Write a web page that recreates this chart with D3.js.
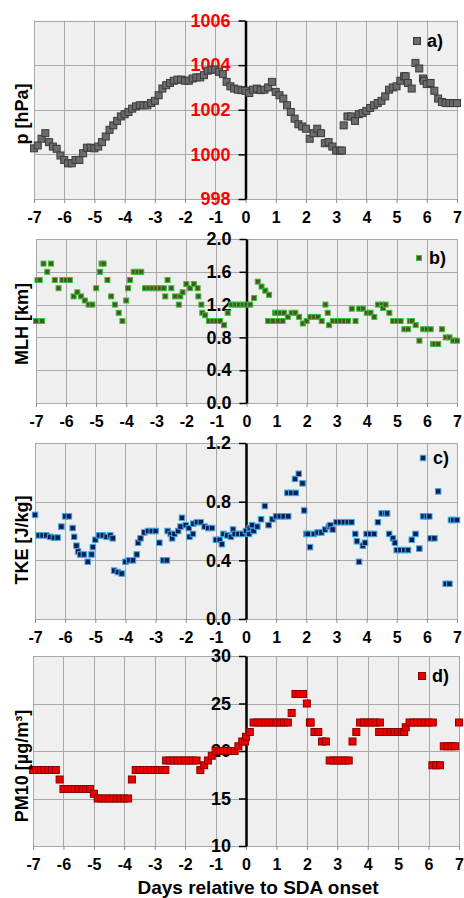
<!DOCTYPE html>
<html>
<head>
<meta charset="utf-8">
<script src="https://d3js.org/d3.v7.min.js"></script>
<style>
body { margin: 0; background: #fff; font-family: "Liberation Sans", Arial, sans-serif; }
svg { display: block; }
</style>
</head>
<body>
<div id="chart"></div>

<script>

var width = 464;
var height = 898;

// time axis: days relative to SDA onset, 3-hourly readings
var days = d3.range(-7, 7.0001, 0.125);
var xTicks = [-7, -6, -5, -4, -3, -2, -1, 0, 1, 2, 3, 4, 5, 6, 7];

// a) surface pressure [hPa], one row per day
var pressure = [
  1000.27, 1000.4, 1000.7, 1000.95, 1000.55, 1000.35, 1000.25, 999.95,
  999.75, 999.6, 999.6, 999.75, 999.75, 1000.05, 1000.3, 1000.3,
  1000.27, 1000.35, 1000.55, 1000.8, 1001.1, 1001.3, 1001.5, 1001.7,
  1001.8, 1001.9, 1002.05, 1002.15, 1002.2, 1002.2, 1002.2, 1002.3,
  1002.4, 1002.65, 1002.95, 1003.1, 1003.2, 1003.3, 1003.35, 1003.35,
  1003.3, 1003.3, 1003.4, 1003.45, 1003.45, 1003.55, 1003.75, 1003.8,
  1003.8, 1003.7, 1003.6, 1003.25, 1003.05, 1002.95, 1002.9, 1002.88,
  1002.85, 1002.75, 1002.9, 1002.95, 1002.88, 1002.9, 1003.0, 1003.25,
  1002.8, 1002.65, 1002.5, 1002.2, 1001.9, 1001.6, 1001.35, 1001.25,
  1001.15, 1000.7, 1000.95, 1001.15, 1000.95, 1000.5, 1000.55, 1000.35,
  1000.17, 1000.17, 1001.3, 1001.7, 1001.7, 1001.5, 1001.8, 1001.85,
  1001.95, 1002.08, 1002.2, 1002.3, 1002.4, 1002.6, 1002.9, 1003.0,
  1003.05, 1003.3, 1003.5, 1003.2, 1002.95, 1004.1, 1003.85, 1003.4,
  1003.15, 1003.2, 1002.85, 1002.5, 1002.35, 1002.3, 1002.3, 1002.3,
  1002.3
];
var pressureExtra = [[3.19, 1000.17], [5.3, 1003.5], [5.9, 1003.3]];

// b) mixing layer height [km]
var mlh = [
  1.0, 1.5, 1.7, 1.6, 1.7, 1.5, 1.4, 1.5,
  1.5, 1.5, 1.3, 1.35, 1.3, 1.25, 1.2, 1.2,
  1.4, 1.6, 1.7, 1.5, 1.3, 1.2, 1.1, 1.0,
  1.25, 1.5, 1.6, 1.6, 1.6, 1.4, 1.4, 1.4,
  1.4, 1.4, 1.4, 1.5, 1.4, 1.3, 1.2, 1.35,
  1.45, 1.4, 1.45, 1.4, 1.2, 1.07, 1.0, 1.0,
  1.0, 1.0, 0.95, 1.1, 1.2, 1.2, 1.2, 1.2,
  1.2, 1.2, 1.28, 1.48, 1.42, 1.37, 1.32, 1.0,
  1.1, 1.1, 1.1, 1.05, 1.1, 1.1, 1.05, 0.97,
  1.0, 1.05, 1.05, 1.05, 1.0, 1.2, 0.95, 1.0,
  1.0, 1.0, 1.0, 1.0, 1.15, 1.0, 1.15, 1.15,
  1.1, 1.1, 1.05, 1.2, 1.2, 1.2, 1.1, 1.0,
  1.0, 1.0, 0.9, 0.9, 1.0, 0.95, 0.76, 0.9,
  0.9, 0.9, 0.72, 0.72, 0.9, 0.8, 0.8, 0.76,
  0.76
];
var mlhExtra = [[-6.8, 1.0], [-6.95, 1.5], [-4.82, 1.7], [-3.94, 1.4], [-2.7, 1.3],
  [-2.2, 1.3], [-1.6, 1.3], [-1.47, 1.1], [0.72, 1.0], [1.05, 1.0], [1.2, 1.0],
  [0.95, 1.1], [2.7, 1.1], [4.54, 1.16], [5.43, 1.0], [6.2, 0.72]];

// c) turbulent kinetic energy [J/kg]
var tke = [
  0.71, 0.57, 0.57, 0.57, 0.56, 0.555, 0.555, 0.63,
  0.70, 0.70, 0.62, 0.50, 0.44, 0.44, 0.39, 0.44,
  0.54, 0.57, 0.57, 0.56, 0.57, 0.33, 0.32, 0.31,
  0.39, 0.40, 0.40, 0.44, 0.55, 0.59, 0.60, 0.60,
  0.60, 0.52, 0.40, 0.40, 0.58, 0.58, 0.60, 0.69,
  0.64, 0.56, 0.65, 0.66, 0.66, 0.63, 0.62, 0.62,
  0.54, 0.54, 0.58, 0.57, 0.56, 0.58, 0.58, 0.58,
  0.60, 0.62, 0.60, 0.63, 0.68, 0.77, 0.64, 0.68,
  0.70, 0.70, 0.70, 0.86, 0.86, 0.955, 0.99, 0.925,
  0.58, 0.49, 0.58, 0.59, 0.59, 0.61, 0.63, 0.61,
  0.66, 0.66, 0.66, 0.66, 0.66, 0.58, 0.39, 0.50,
  0.58, 0.58, 0.58, 0.66, 0.72, 0.72, 0.58, 0.55,
  0.47, 0.47, 0.47, 0.47, 0.54, 0.58, 0.48, 0.70,
  0.70, 0.55, 0.55, 0.87, null, 0.24, 0.24, 0.675,
  0.675
];
var tkeExtra = [[-5.7, 0.56], [-5.57, 0.46], [-5.08, 0.49], [-4.42, 0.55], [-3.58, 0.52],
  [-2.6, 0.60], [-2.45, 0.55], [-2.17, 0.63], [-1.9, 0.62], [-1.76, 0.58],
  [-0.8, 0.51], [-0.43, 0.61], [0.1, 0.58], [0.2, 0.64], [1.4, 0.70], [1.65, 0.86],
  [1.93, 0.74], [2.05, 0.58], [2.8, 0.64], [3.68, 0.53], [3.95, 0.52], [4.68, 0.72],
  [4.94, 0.52], [6.08, 0.70], [6.8, 0.675]];

// d) PM10 [µg/m3]
var pm10 = [
  18, 18, 18, 18, 18, 18, 18, 17,
  16, 16, 16, 16, 16, 16, 16, 16,
  15.5, 15, 15, 15, 15, 15, 15, 15,
  15, 15, 17, 18, 18, 18, 18, 18,
  18, 18, 18, 19, 19, 19, 19, 19,
  19, 19, 19, 19, 18, 18.5, 19, 19.5,
  20, 20, 20, 20, 20, 20, 20.5, 21,
  21.5, 22, 23, 23, 23, 23, 23, 23,
  23, 23, 23, 23, 24, 26, 26, 26,
  25, 23, 22, 22, 21, 21, 19, 19,
  19, 19, 19, 19, 21, 22, 23, 23,
  23, 23, 23, 22, 22, 22, 22, 22,
  22, 22, 22.5, 23, 23, 23, 23, 23,
  23, 18.5, 18.5, 18.5, 20.5, 20.5, 20.5, 20.5,
  23
];
var pm10Extra = [[-2.65, 18], [-0.03, 21], [2.1, 23], [4.4, 23], [5.2, 22], [6.14, 23]];

var pTicks = [998, 1000, 1002, 1004, 1006];
var mlhTicks = [0, 0.4, 0.8, 1.2, 1.6, 2.0];
var tkeTicks = [0, 0.4, 0.8, 1.2];
var pmTicks = [10, 15, 20, 25, 30];

var panels = [
  { values: pressure, extra: pressureExtra, ticks: pTicks, fmt: d3.format("d"),
    left: 34, right: 457, top: 20.5, bottom: 199, size: 7,
    fill: "#6b6b6b", stroke: "#3a3a3a", labelColor: "#ff0000",
    title: "p [hPa]", titleY: 114, label: "a)", legendX: 417, legendY: 41 },
  { values: mlh, extra: mlhExtra, ticks: mlhTicks, fmt: d3.format(".1f"),
    left: 36, right: 457, top: 239, bottom: 403, size: 5,
    fill: "#4a5520", stroke: "#39c039", labelColor: "#000",
    title: "MLH [km]", titleY: 324, label: "b)", legendX: 419, legendY: 258 },
  { values: tke, extra: tkeExtra, ticks: tkeTicks, fmt: d3.format(".1f"),
    left: 35, right: 457, top: 443, bottom: 619, size: 5.5,
    fill: "#0f1d55", stroke: "#3fa9e4", labelColor: "#000",
    title: "TKE [J/kg]", titleY: 540, label: "c)", legendX: 423, legendY: 458 },
  { values: pm10, extra: pm10Extra, ticks: pmTicks, fmt: d3.format("d"),
    left: 33, right: 459, top: 656, bottom: 846, size: 7,
    fill: "#ee0000", stroke: "#8b0000", labelColor: "#000",
    title: "PM10 [\u00b5g/m\u00b3]", titleY: 766, label: "d)", legendX: 422, legendY: 676 }
];

var svg = d3.select("#chart").append("svg").attr("width", width).attr("height", height);

panels.forEach(function (p) {
  var x = d3.scaleLinear().domain([-7, 7]).range([p.left, p.right]);
  var y = d3.scaleLinear().domain([p.ticks[0], p.ticks[p.ticks.length - 1]]).range([p.bottom, p.top]);
  var g = svg.append("g");

  g.append("rect")
  .attr("x", p.left).attr("y", p.top)
  .attr("width", p.right - p.left).attr("height", p.bottom - p.top)
  .style("fill", "#efefef");

  g.selectAll(".vgrid").data(xTicks).enter().append("line")
  .attr("x1", function(d) { return Math.round(x(d)) + 0.5; })
  .attr("x2", function(d) { return Math.round(x(d)) + 0.5; })
  .attr("y1", p.top).attr("y2", p.bottom)
  .style("stroke", "#a8a8a8");

  g.selectAll(".hgrid").data(p.ticks).enter().append("line")
  .attr("x1", p.left).attr("x2", p.right)
  .attr("y1", function(d) { return Math.round(y(d)) + 0.5; })
  .attr("y2", function(d) { return Math.round(y(d)) + 0.5; })
  .style("stroke", "#a8a8a8");

  // bottom axis: small ticks plus bold day labels
  var xAxis = g.append("g")
  .attr("transform", "translate(0," + p.bottom + ")")
  .call(d3.axisBottom(x).tickValues(xTicks).tickSize(4).tickPadding(9).tickFormat(String));
  xAxis.select(".domain").remove();
  xAxis.selectAll("line").style("stroke", "#8c8c8c");
  xAxis.selectAll("text")
  .style("font-family", "'Liberation Sans', Arial, sans-serif")
  .style("font-weight", "bold").style("font-size", "16px").style("fill", "#000");

  // vertical axis at day 0
  var yAxis = g.append("g")
  .attr("transform", "translate(" + x(0) + ",0)")
  .call(d3.axisLeft(y).tickValues(p.ticks).tickSize(7).tickPadding(8).tickSizeOuter(0).tickFormat(p.fmt));
  yAxis.select(".domain").style("stroke", "#000").style("stroke-width", 2.5);
  yAxis.selectAll("line").style("stroke", "#000").style("stroke-width", 1.5);
  yAxis.selectAll("text")
  .style("font-family", "'Liberation Sans', Arial, sans-serif")
  .style("font-weight", "bold").style("font-size", "18px").style("fill", p.labelColor);

  var points = days.map(function(d, i) { return [d, p.values[i]]; })
  .filter(function(d) { return d[1] !== null; })
  .concat(p.extra)
  .sort(function(a, b) { return a[0] - b[0]; });

  g.selectAll(".point").data(points).enter().append("rect")
  .attr("class", "point")
  .attr("x", function(d) { return x(d[0]) - p.size / 2; })
  .attr("y", function(d) { return y(d[1]) - p.size / 2; })
  .attr("width", p.size).attr("height", p.size)
  .style("fill", p.fill).style("stroke", p.stroke).style("stroke-width", 1);

  // legend entry
  g.append("rect")
  .attr("x", p.legendX - p.size / 2).attr("y", p.legendY - p.size / 2)
  .attr("width", p.size).attr("height", p.size)
  .style("fill", p.fill).style("stroke", p.stroke);
  g.append("text")
  .attr("x", p.legendX + 10).attr("y", p.legendY + 6)
  .style("font-weight", "bold").style("font-size", "18px")
  .text(p.label);

  g.append("text")
  .attr("transform", "translate(28," + p.titleY + ") rotate(-90)")
  .attr("text-anchor", "middle")
  .style("font-weight", "bold").style("font-size", "18px")
  .text(p.title);
});

svg.append("text")
.attr("x", 258).attr("y", 894)
.attr("text-anchor", "middle")
.style("font-weight", "bold").style("font-size", "19px")
.text("Days relative to SDA onset");

</script>
</body>
</html>
